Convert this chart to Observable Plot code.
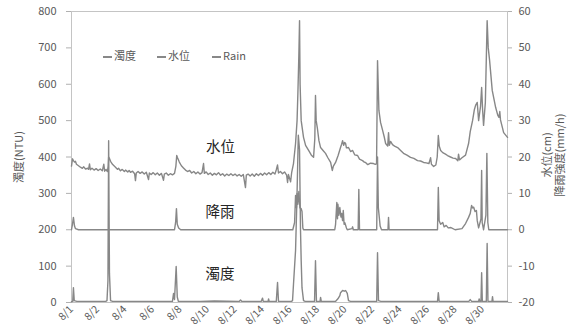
<!DOCTYPE html>
<html><head><meta charset="utf-8">
<script src="https://cdn.jsdelivr.net/npm/d3@7"></script>
<script src="https://cdn.jsdelivr.net/npm/@observablehq/plot@0.6"></script>
<style>
body{margin:0;background:#fff;}
#wrap{position:relative;width:574px;height:336px;font-family:"Noto Sans CJK TC","Noto Sans",sans-serif;}
.lg{position:absolute;top:48px;font-size:11px;color:#595959;white-space:nowrap;line-height:14px;}
.lg i{display:inline-block;width:9px;height:1.6px;background:#888;vertical-align:middle;margin-right:2px;}
</style></head><body><div id="wrap"></div>
<script>
// x-axis tick positions (day index) and labels
const tickDays = [0.11,2,4,6,8,10,12,14,16,18,20,22,24,26,28,30];
const tickLabels = ["8/1","8/2","8/4","8/6","8/8","8/10","8/12","8/14","8/16","8/18","8/20","8/22","8/24","8/26","8/28","8/30"];
const leftTicks = [0,100,200,300,400,500,600,700,800];   // 濁度 (NTU)
const rightTicks = [-20,-10,0,10,20,30,40,50,60];         // 水位(cm) / 降雨強度(mm/h)
const seriesNames = ["濁度","水位","Rain"];

// 水位 (cm): [day, value]
const waterLevel = [[0.11,17.5],[0.18,19.5],[0.25,19.0],[0.33,18.6],[0.40,18.8],[0.47,18.0],[0.62,17.6],[0.76,17.2],[0.90,16.9],[1.00,17.3],[1.13,16.7],[1.30,16.9],[1.35,16.6],[1.42,18.1],[1.48,16.5],[1.60,16.9],[1.75,16.4],[1.90,16.8],[2.05,16.3],[2.20,16.7],[2.35,16.2],[2.46,18.0],[2.52,16.1],[2.62,16.6],[2.72,16.0],[2.78,17.5],[2.81,20.0],[2.87,19.6],[2.95,18.8],[3.09,18.0],[3.20,17.6],[3.31,17.2],[3.45,16.6],[3.53,16.9],[3.67,16.2],[3.80,16.6],[3.95,16.0],[4.04,16.4],[4.20,15.9],[4.30,16.3],[4.40,15.8],[4.55,16.1],[4.70,15.4],[4.76,13.5],[4.82,15.6],[4.95,16.0],[5.10,15.5],[5.25,15.9],[5.40,15.3],[5.55,15.8],[5.71,13.8],[5.77,15.6],[5.90,15.2],[6.05,15.7],[6.20,15.1],[6.35,15.6],[6.50,15.0],[6.65,15.5],[6.80,13.6],[6.86,15.3],[7.00,15.6],[7.15,15.0],[7.30,15.4],[7.45,15.1],[7.60,15.5],[7.70,17.5],[7.76,20.4],[7.82,19.8],[7.95,18.6],[8.10,17.6],[8.25,17.0],[8.40,16.4],[8.55,16.0],[8.70,16.3],[8.85,15.6],[9.00,16.0],[9.15,15.4],[9.30,15.9],[9.45,15.3],[9.60,15.7],[9.71,18.2],[9.77,15.5],[9.90,15.9],[10.05,15.2],[10.20,15.6],[10.35,15.0],[10.50,15.5],[10.65,15.1],[10.80,15.7],[10.95,15.0],[11.10,15.4],[11.25,14.8],[11.40,15.3],[11.55,14.9],[11.70,15.4],[11.85,14.9],[12.00,15.3],[12.15,14.8],[12.30,15.2],[12.45,14.7],[12.60,15.2],[12.76,11.6],[12.82,15.0],[12.95,15.3],[13.10,14.8],[13.25,15.3],[13.40,14.7],[13.55,15.4],[13.70,14.9],[13.85,15.5],[14.00,15.0],[14.15,15.6],[14.30,15.1],[14.45,15.7],[14.60,15.2],[14.75,15.8],[14.90,15.3],[15.00,16.5],[15.09,17.8],[15.16,15.6],[15.30,16.0],[15.45,15.4],[15.60,15.9],[15.75,15.0],[15.82,13.0],[15.88,15.2],[16.04,13.2],[16.12,15.8],[16.25,18.2],[16.40,23.7],[16.51,30.0],[16.57,37.5],[16.64,48.0],[16.69,57.5],[16.73,40.0],[16.81,30.0],[16.98,25.4],[17.13,23.2],[17.35,21.8],[17.55,20.5],[17.71,19.9],[17.80,25.0],[17.85,36.9],[17.90,30.0],[17.98,28.1],[18.10,24.5],[18.22,22.6],[18.40,21.8],[18.58,21.0],[18.75,19.8],[18.95,18.5],[19.07,16.3],[19.15,17.5],[19.31,18.5],[19.50,20.5],[19.67,22.6],[19.75,23.5],[19.82,24.5],[19.90,23.2],[19.97,24.0],[20.04,23.7],[20.10,22.5],[20.25,22.6],[20.40,21.5],[20.55,21.8],[20.70,20.6],[20.91,20.4],[21.05,19.4],[21.27,19.0],[21.40,18.6],[21.49,18.5],[21.65,17.9],[21.85,18.3],[22.07,18.2],[22.20,18.0],[22.29,18.1],[22.36,46.5],[22.46,32.8],[22.58,29.5],[22.73,27.3],[22.85,25.5],[22.95,23.7],[23.10,23.0],[23.16,26.7],[23.22,23.2],[23.31,24.3],[23.45,23.4],[23.60,23.0],[23.82,22.6],[24.04,21.8],[24.25,21.0],[24.50,20.5],[24.76,19.9],[25.00,19.6],[25.27,19.0],[25.49,18.9],[25.71,18.5],[25.90,18.4],[26.10,18.2],[26.22,19.8],[26.28,18.0],[26.44,17.4],[26.60,17.8],[26.70,20.0],[26.78,25.9],[26.85,23.0],[26.95,21.8],[27.10,21.2],[27.30,20.8],[27.45,20.4],[27.67,20.0],[27.85,19.7],[28.04,19.6],[28.20,19.0],[28.25,20.8],[28.32,19.2],[28.50,19.8],[28.76,20.5],[28.98,23.7],[29.10,27.0],[29.27,30.0],[29.40,33.0],[29.49,34.2],[29.61,35.0],[29.71,30.0],[29.85,34.0],[29.93,39.1],[30.00,33.0],[30.07,28.7],[30.20,35.0],[30.33,57.5],[30.41,50.0],[30.51,46.5],[30.70,38.3],[30.95,33.6],[31.10,31.5],[31.19,30.9],[31.25,32.5],[31.30,30.2],[31.53,26.7],[31.81,25.4]];

// 降雨強度 (mm/h): [day, value]
const rainfall = [[0.11,0],[0.18,1.5],[0.25,3.4],[0.33,1.0],[0.40,0.3],[0.62,0],[7.60,0],[7.68,2.0],[7.74,5.8],[7.80,1.5],[7.90,0.5],[8.05,0],[16.20,0],[16.33,2.0],[16.40,9.4],[16.47,6.0],[16.51,10.0],[16.57,7.0],[16.64,10.5],[16.72,6.0],[16.81,5.8],[16.87,5.0],[16.93,0.5],[16.98,0],[19.25,0],[19.31,1.5],[19.40,7.5],[19.45,3.0],[19.48,7.0],[19.55,4.0],[19.62,6.1],[19.70,3.5],[19.75,4.5],[19.82,2.5],[19.87,5.3],[19.93,1.5],[19.99,1.9],[20.10,0.5],[20.16,0],[20.50,0.3],[20.55,0.8],[20.60,0],[20.95,0],[21.00,11.1],[21.05,0],[22.30,0],[22.36,20.0],[22.42,6.0],[22.46,4.5],[22.55,1.0],[22.65,0],[23.12,0],[23.16,3.4],[23.20,0],[26.72,0],[26.78,11.6],[26.84,2.5],[26.95,1.5],[27.10,2.0],[27.20,0.8],[27.35,1.2],[27.50,0.5],[27.70,0.6],[28.00,0],[28.50,0.3],[28.76,1.7],[28.98,3.4],[29.10,4.5],[29.20,6.7],[29.27,6.0],[29.35,6.2],[29.45,5.0],[29.55,5.3],[29.61,2.5],[29.71,0.5],[29.80,1.8],[29.88,3.0],[29.93,16.3],[29.97,2.0],[30.07,0],[30.24,4.0],[30.31,21.0],[30.38,2.0],[30.45,0],[31.81,0]];

// 濁度 (NTU): [day, value]
const turbidity = [[0.11,2],[0.20,3],[0.25,41],[0.31,5],[0.50,3],[2.60,3],[2.69,5],[2.76,60],[2.81,445],[2.87,80],[2.95,5],[3.10,3],[7.45,3],[7.53,25],[7.60,8],[7.72,99],[7.80,15],[7.88,3],[9.50,3],[10.50,4],[12.30,3],[12.40,7],[12.50,3],[13.90,3],[14.00,12],[14.05,3],[14.40,3],[14.44,10],[14.48,3],[15.00,3],[15.09,55],[15.16,3],[16.10,3],[16.18,5],[16.25,50],[16.40,143],[16.51,300],[16.60,460],[16.69,420],[16.76,200],[16.81,115],[16.87,40],[16.98,5],[17.10,3],[17.78,3],[17.85,115],[17.92,3],[18.18,3],[18.22,14],[18.27,3],[19.30,3],[19.48,10],[19.62,19],[19.67,27],[19.82,33],[19.95,31],[20.04,33],[20.16,25],[20.25,5],[20.40,3],[22.30,3],[22.36,137],[22.43,5],[22.60,3],[26.72,3],[26.78,27],[26.84,3],[29.00,3],[29.10,8],[29.20,3],[29.71,3],[29.75,10],[29.80,3],[29.88,3],[29.93,82],[29.98,3],[30.27,3],[30.33,162],[30.39,3],[30.68,3],[30.72,16],[30.76,3],[31.81,3]];

// in-chart labels
const annotations = [
  {label: "水位", day: 10.95, value: 426},
  {label: "降雨", day: 10.9, value: 247},
  {label: "濁度", day: 10.9, value: 77}
];

const toLeft = v => (v + 20) * 10; // right-axis units -> left-axis units
const rows = arr => arr.map(([day, v]) => ({day, v}));
const labelOf = new Map(tickDays.map((d, i) => [d, tickLabels[i]]));
const lineColor = "#878787";
const font = '"Noto Sans CJK TC","Noto Sans",sans-serif';

const chart = Plot.plot({
  width: 574, height: 336,
  marginLeft: 71, marginRight: 67, marginTop: 11, marginBottom: 34,
  style: {fontFamily: font, fontSize: "11px", color: "#595959", background: "white", overflow: "visible"},
  x: {domain: [0.11, 31.81], axis: null},
  y: {domain: [0, 800], axis: null},
  marks: [
    Plot.frame({stroke: "#c4c4c4"}),
    Plot.axisY({ticks: leftTicks, tickSize: 5, tickPadding: 10, stroke: "#b0b0b0", tickFormat: d => String(d), label: null, fontSize: 11}),
    Plot.axisY({anchor: "right", ticks: rightTicks.map(toLeft), tickSize: 4, tickPadding: 7, stroke: "#b0b0b0", tickFormat: d => String(d / 10 - 20), label: null, fontSize: 11}),
    Plot.axisX({ticks: tickDays, tickFormat: d => labelOf.get(d), tickRotate: -45, tickSize: 0, tickPadding: 5, label: null, fontSize: 10.5}),
    Plot.line(rows(turbidity), {x: "day", y: "v", stroke: lineColor, strokeWidth: 1.4}),
    Plot.line(rows(rainfall), {x: "day", y: d => toLeft(d.v), stroke: lineColor, strokeWidth: 1.4}),
    Plot.line(rows(waterLevel), {x: "day", y: d => toLeft(d.v), stroke: lineColor, strokeWidth: 1.4}),
    Plot.text(annotations, {x: "day", y: "value", text: "label", fontSize: 14.5, fill: "#262626", fontFamily: font})
  ]
});

const wrap = document.getElementById("wrap");
wrap.appendChild(chart);

// axis titles
const svg = d3.select(chart);
const addTitle = (txt, x, y) => svg.append("text")
  .attr("transform", `translate(${x},${y}) rotate(-90)`)
  .attr("text-anchor", "middle").attr("dominant-baseline", "central")
  .attr("fill", "#595959").attr("font-size", 11).attr("font-family", font)
  .text(txt);
addTitle("濁度(NTU)", 18, 157);
addTitle("水位(cm)", 546, 155);
addTitle("降雨強度(mm/h)", 559, 155);

// legend overlay
const lgLeft = [103, 157, 212];
seriesNames.forEach((n, i) => {
  const el = document.createElement("div");
  el.className = "lg";
  el.style.left = lgLeft[i] + "px";
  el.innerHTML = "<i></i>" + n;
  wrap.appendChild(el);
});
</script>
</body></html>
